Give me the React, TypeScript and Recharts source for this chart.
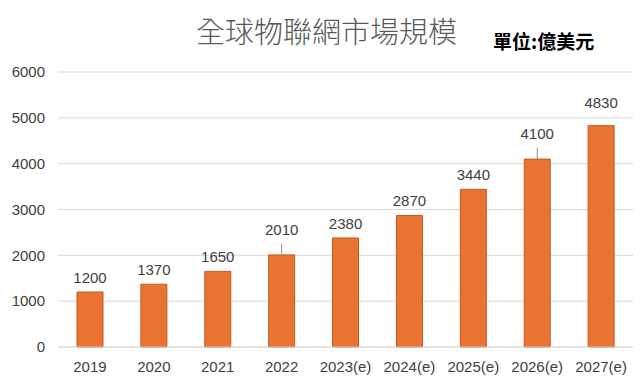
import { BarChart, Bar, XAxis, YAxis, CartesianGrid, LabelList } from "recharts";

const years = ["2019", "2020", "2021", "2022", "2023(e)", "2024(e)", "2025(e)", "2026(e)", "2027(e)"];
const marketSize = [1200, 1370, 1650, 2010, 2380, 2870, 3440, 4100, 4830];
const yTicks = [0, 1000, 2000, 3000, 4000, 5000, 6000];
// labels drawn higher with a small leader line
const leaderYears = ["2022", "2026(e)"];
// label drawn higher, no leader
const raisedYears = ["2027(e)"];

const data = years.map((year, i) => ({ year, value: marketSize[i] }));

const font = "'Liberation Sans', Arial, sans-serif";

const ValueLabel = (props: any) => {
  const { x, y, width, value, index } = props;
  const cx = x + width / 2;
  const hasLeader = leaderYears.includes(years[index]);
  const raised = raisedYears.includes(years[index]);
  const lift = hasLeader ? 24 : raised ? 22 : 13;
  return (
    <g>
      {hasLeader && <line x1={cx} x2={cx} y1={y - 11} y2={y} stroke="#8c8c8c" strokeWidth={1} />}
      <text
        x={cx}
        y={y - lift}
        textAnchor="middle"
        dominantBaseline="middle"
        fontSize={15}
        fontFamily={font}
        fill="#404040"
      >
        {value}
      </text>
    </g>
  );
};

const App = () => {
  return (
    <div style={{ position: "absolute", left: 0, top: 0, width: 644, height: 392, background: "#fff" }}>
      <div
        style={{
          position: "absolute",
          left: 196,
          top: 11,
          fontSize: 29,
          fontFamily: "'Noto Sans CJK TC', sans-serif",
          fontWeight: 300,
          color: "#595959",
          whiteSpace: "nowrap",
          lineHeight: "38px",
        }}
      >
        全球物聯網市場規模
      </div>
      <div
        style={{
          position: "absolute",
          left: 493,
          top: 29,
          fontSize: 19,
          fontFamily: "'Noto Sans CJK TC', sans-serif",
          fontWeight: 700,
          color: "#000",
          whiteSpace: "nowrap",
          lineHeight: "24px",
        }}
      >
        單位:億美元
      </div>
      <BarChart width={644} height={392} data={data} margin={{ top: 72, right: 11, bottom: 15, left: 0 }}>
        <CartesianGrid vertical={false} stroke="#d9d9d9" />
        <XAxis
          dataKey="year"
          axisLine={{ stroke: "#d9d9d9" }}
          tickLine={false}
          height={30}
          tickMargin={8}
          tick={{ fontSize: 15, fill: "#404040", fontFamily: font }}
          interval={0}
        />
        <YAxis
          domain={[0, 6000]}
          ticks={yTicks}
          width={58}
          axisLine={false}
          tickLine={false}
          tickMargin={7}
          tick={{ fontSize: 15, fill: "#404040", fontFamily: font }}
        />
        <Bar dataKey="value" fill="#EB7331" stroke="#C65A1E" strokeWidth={1} barSize={26} isAnimationActive={false}>
          <LabelList dataKey="value" content={ValueLabel} />
        </Bar>
      </BarChart>
    </div>
  );
};

export default App;
